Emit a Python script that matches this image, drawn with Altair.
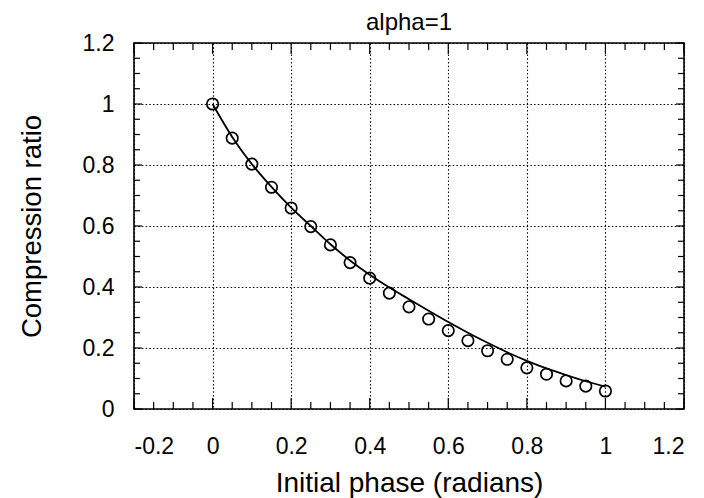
import altair as alt
import pandas as pd

# Measured points (circles)
phase = [0.0, 0.05, 0.1, 0.15, 0.2, 0.25, 0.3, 0.35, 0.4, 0.45, 0.5,
         0.55, 0.6, 0.65, 0.7, 0.75, 0.8, 0.85, 0.9, 0.95, 1.0]
measured = [1.0, 0.888, 0.803, 0.727, 0.659, 0.598, 0.538, 0.480, 0.429, 0.380, 0.335,
            0.295, 0.257, 0.224, 0.191, 0.163, 0.135, 0.114, 0.092, 0.075, 0.059]

# Solid curve
curve_phase = [0.0, 0.05, 0.1, 0.15, 0.2, 0.25, 0.3, 0.35, 0.4, 0.45, 0.5,
               0.55, 0.6, 0.65, 0.7, 0.75, 0.8, 0.85, 0.9, 0.95, 1.0]
curve_ratio = [1.0, 0.892, 0.803, 0.728, 0.660, 0.600, 0.540, 0.487, 0.440, 0.398, 0.360,
               0.322, 0.285, 0.250, 0.217, 0.186, 0.158, 0.133, 0.111, 0.091, 0.073]

x_major = [-0.2, 0.0, 0.2, 0.4, 0.6, 0.8, 1.0, 1.2]
y_major = [0.0, 0.2, 0.4, 0.6, 0.8, 1.0, 1.2]
x_minor = [-0.15, -0.1, -0.05, 0.05, 0.1, 0.15, 0.25, 0.3, 0.35, 0.45, 0.5, 0.55,
           0.65, 0.7, 0.75, 0.85, 0.9, 0.95, 1.05, 1.1, 1.15]
y_minor = [0.05, 0.1, 0.15, 0.25, 0.3, 0.35, 0.45, 0.5, 0.55, 0.65, 0.7, 0.75,
           0.85, 0.9, 0.95, 1.05, 1.1, 1.15]

W, H = 550, 366
FONT = "Liberation Sans"

pts = pd.DataFrame({"x": phase, "y": measured})
crv = pd.DataFrame({"x": curve_phase, "y": curve_ratio})
xmaj = pd.DataFrame({"x": x_major})
xmin = pd.DataFrame({"x": x_minor})
ymaj = pd.DataFrame({"y": y_major})
ymin = pd.DataFrame({"y": y_minor})

xs = alt.Scale(domain=[-0.2, 1.2], nice=False, zero=False)
ys = alt.Scale(domain=[0, 1.2], nice=False, zero=False)

lbl = "toString(round(datum.value*10)/10)"

x_axis = alt.Axis(values=x_major, title="Initial phase (radians)", labelExpr=lbl,
                  labelPadding=26, titlePadding=11, titleFontSize=28)
y_axis = alt.Axis(values=y_major, title="Compression ratio", labelExpr=lbl,
                  labelPadding=20, titlePadding=36, titleFontSize=27.5)

X = alt.X("x:Q", scale=xs, axis=x_axis)
Y = alt.Y("y:Q", scale=ys, axis=y_axis)

line = alt.Chart(crv).mark_line(color="black", strokeWidth=1.8, interpolate="monotone").encode(
    x=X, y=Y)

points = alt.Chart(pts).mark_point(shape="circle", filled=False, color="black",
                                   size=130, strokeWidth=1.7, opacity=1).encode(x=X, y=Y)

def xticks(df, length):
    bottom = alt.Chart(df).mark_rule(color="black", strokeWidth=1.2).encode(
        x=X, y=alt.value(H), y2=alt.value(H - length))
    top = alt.Chart(df).mark_rule(color="black", strokeWidth=1.2).encode(
        x=X, y=alt.value(0), y2=alt.value(length))
    return [bottom, top]

def yticks(df, length):
    left = alt.Chart(df).mark_rule(color="black", strokeWidth=1.2).encode(
        y=Y, x=alt.value(0), x2=alt.value(length))
    right = alt.Chart(df).mark_rule(color="black", strokeWidth=1.2).encode(
        y=Y, x=alt.value(W), x2=alt.value(W - length))
    return [left, right]

layers = [line, points] + xticks(xmaj, 11) + xticks(xmin, 7) + yticks(ymaj, 8) + yticks(ymin, 6)

chart = alt.layer(*layers).properties(
    width=W, height=H,
    background="white",
    title=alt.TitleParams("alpha=1", font=FONT, fontSize=24, fontWeight="normal",
                          color="black", anchor="middle", offset=-3),
    autosize=alt.AutoSizeParams(type="none"),
    padding={"left": 126, "top": 35, "right": 12, "bottom": 90},
).configure_view(
    stroke="black", strokeWidth=1.6
).configure_axis(
    domain=False, ticks=False,
    labelFont=FONT, labelFontSize=23, labelColor="black",
    titleFont=FONT, titleFontWeight="normal", titleColor="black",
    grid=True, gridColor="black", gridDash=[1.5, 2.2], gridWidth=1.1, gridOpacity=1,
)

chart.save("out.html", embed_options={"renderer": "svg", "actions": False})
